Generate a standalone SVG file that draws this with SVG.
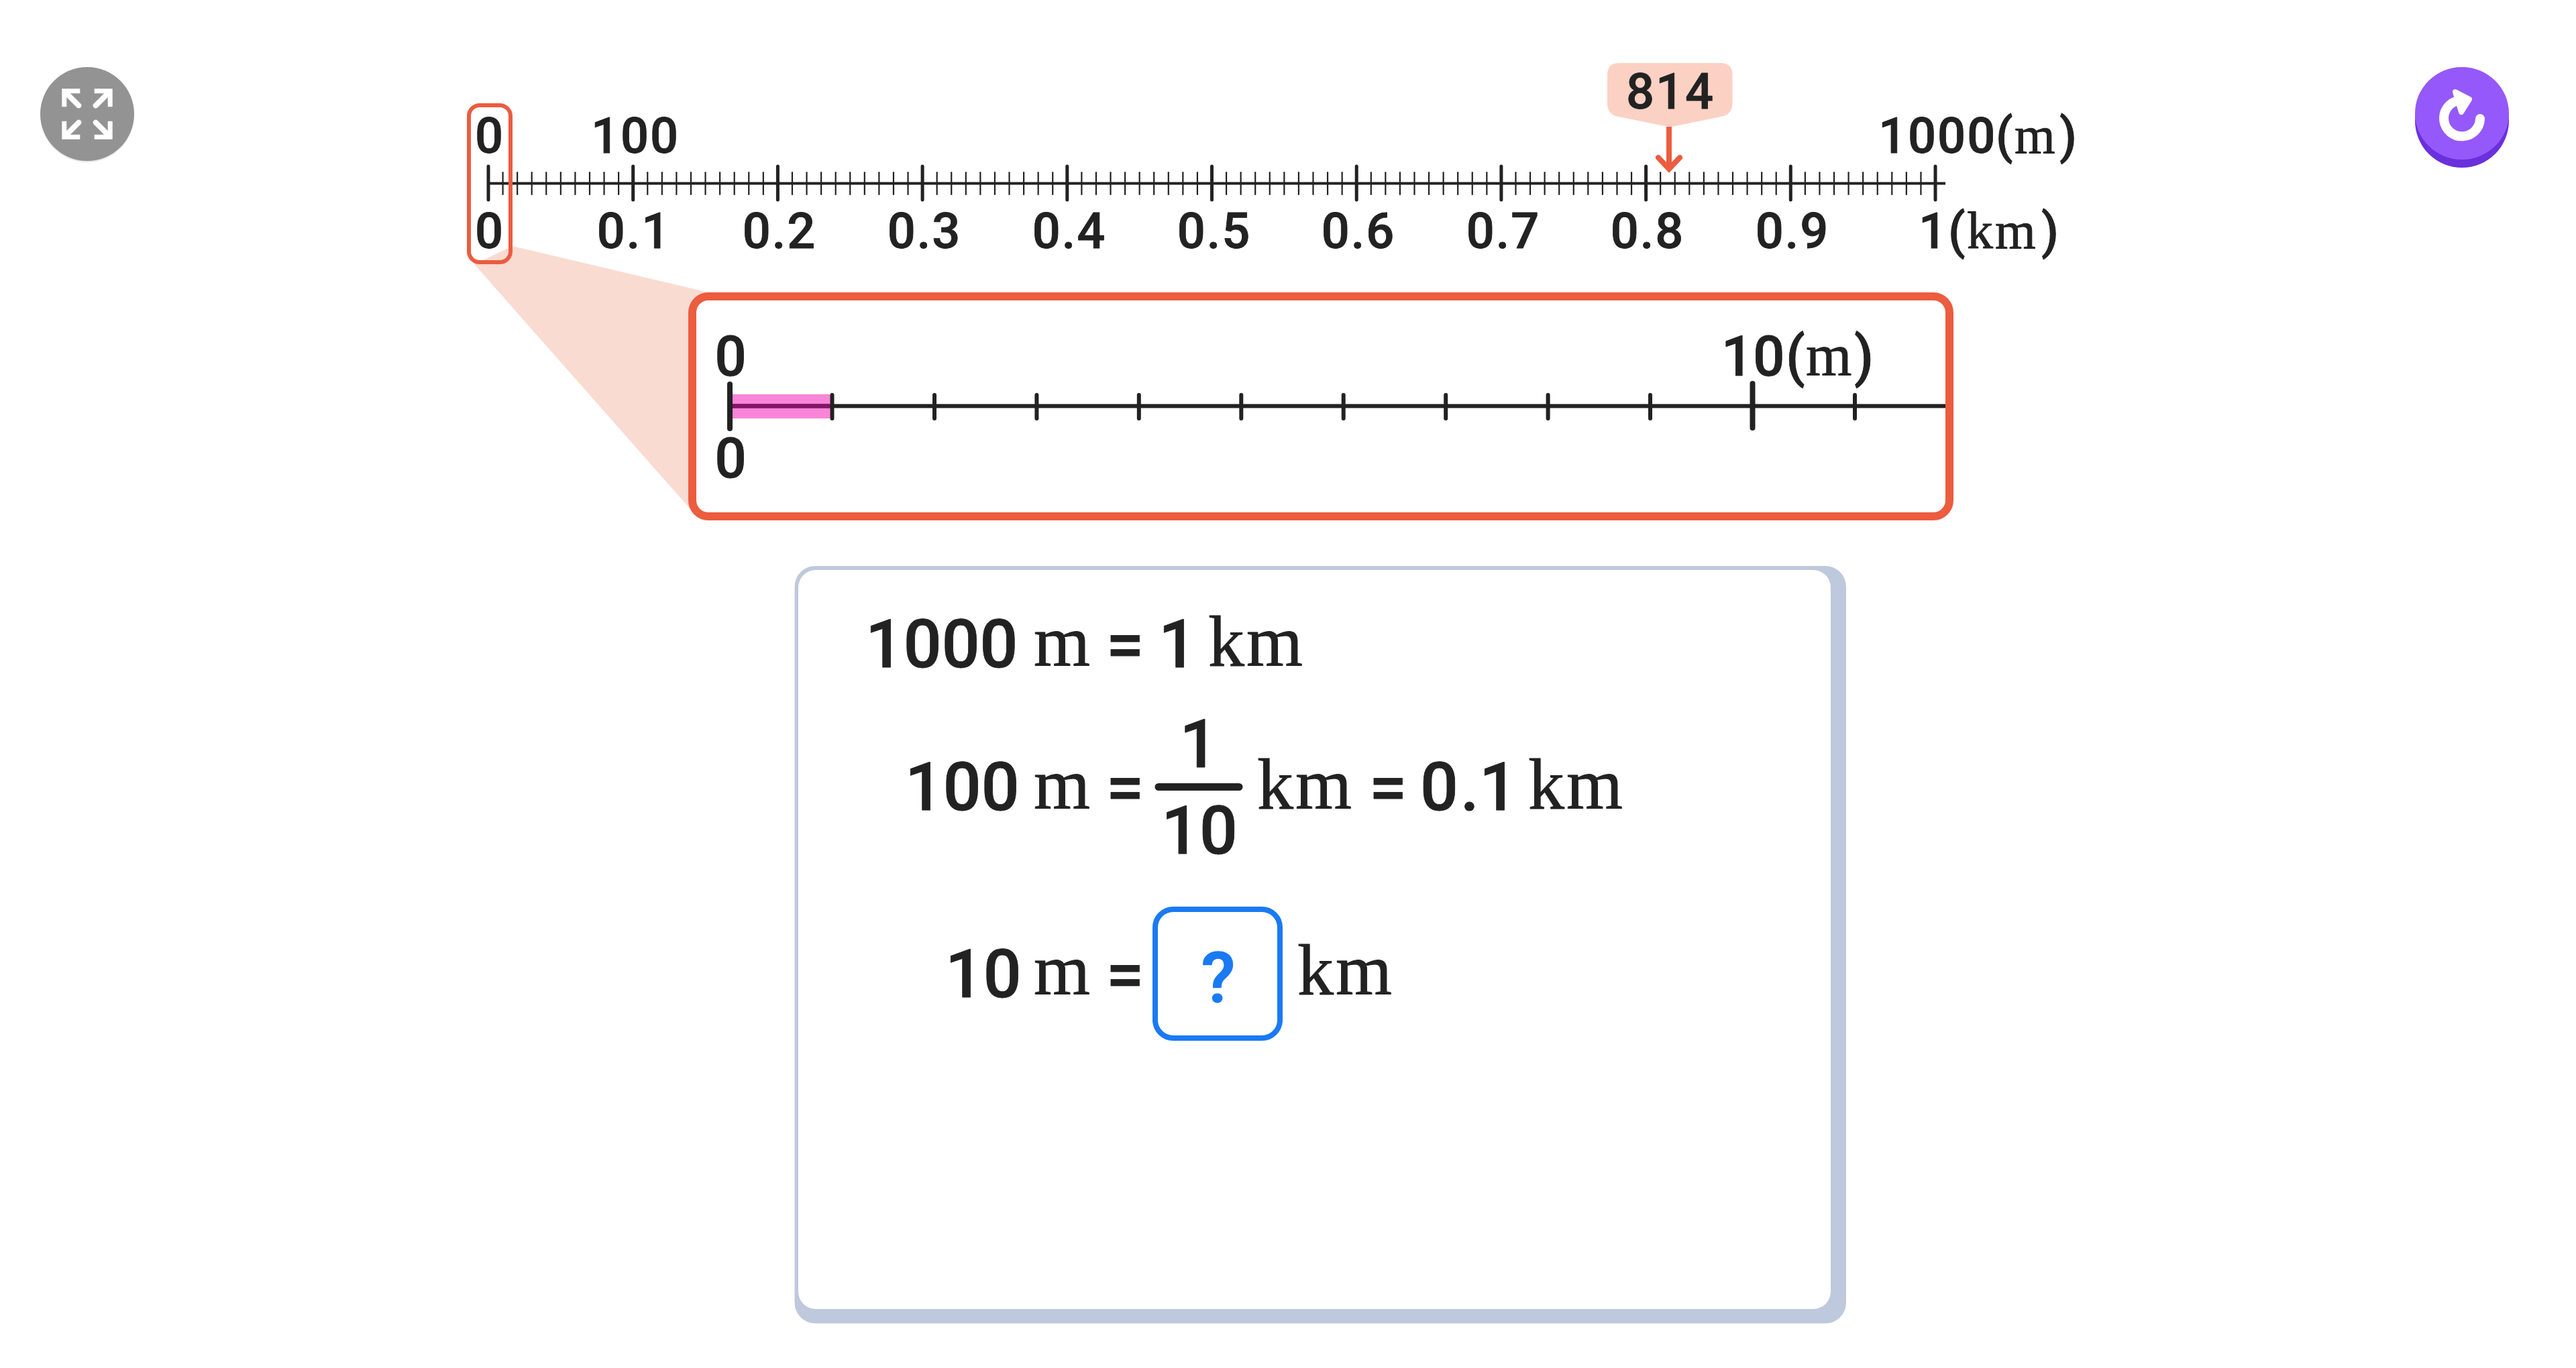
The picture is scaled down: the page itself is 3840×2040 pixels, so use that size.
<svg xmlns="http://www.w3.org/2000/svg" width="3840" height="2040" viewBox="0 0 3840 2040">
<style>
.n{font-family:Roboto,"Noto Sans",sans-serif;font-weight:500;fill:#222;stroke:#222;stroke-width:.8px;stroke-linejoin:round}
.s{font-family:"Liberation Serif",serif;font-weight:400;fill:#222;stroke:#222;stroke-width:.9px;letter-spacing:0}
.a{font-size:74px;letter-spacing:2px}.b{font-size:83px}.c{font-size:100px}
.sa{font-size:78px}.sb{font-size:88px}.sc{font-size:108px}
.km{letter-spacing:3px}
.mid{text-anchor:middle}
.tk{stroke:#222;stroke-linecap:round;fill:none}
.red{stroke:#ec5c3f;fill:none}
.q{fill:#1a7af3;stroke:#1a7af3;stroke-width:1.5px}
</style>
<defs>
<g id="exp"><path d="M27 3.500H3.500V27" fill="none" stroke="#fff" stroke-width="7"/><path d="M5 5L25 25" fill="none" stroke="#fff" stroke-width="8" stroke-linecap="round"/></g>
</defs>
<rect width="3840" height="2040" fill="#fff"/>

<g id="btn-expand">
<circle cx="130" cy="172" r="70" fill="#e9e9e9"/>
<circle cx="130" cy="170" r="70" fill="#939393"/>
<use href="#exp" transform="translate(92.3 132.3)"/>
<use href="#exp" transform="translate(167.7 132.3) scale(-1 1)"/>
<use href="#exp" transform="translate(92.3 207.7) scale(1 -1)"/>
<use href="#exp" transform="translate(167.7 207.7) scale(-1 -1)"/>
</g>

<g id="btn-reload">
<circle cx="3670" cy="180" r="70" fill="#6a30dc"/>
<ellipse cx="3670" cy="169" rx="70" ry="69" fill="#9558fa"/>
<path d="M3697 177A27 27 0 1 1 3664 150" fill="none" stroke="#fff" stroke-width="14" stroke-linecap="round"/>
<path d="M3660 137L3681 148L3669 167Z" fill="#fff" stroke="#fff" stroke-width="8" stroke-linejoin="round"/>
</g>

<g id="wedge"><polygon points="764,367 1056,436 1030,760 707,394" fill="#fadbd1"/></g>

<g id="top-axis">
<line x1="728" y1="273.500" x2="2900" y2="273.500" stroke="#222" stroke-width="4"/>
<line x1="728" y1="273.500" x2="2885" y2="273.500" stroke="#222" stroke-width="34.700" stroke-dasharray="2.200 19.370" stroke-dashoffset="1.100"/>
<path class="tk" stroke-width="5" d="M728 248V298M943.700 248V298M1159.400 248V298M1375.100 248V298M1590.800 248V298M1806.500 248V298M2022.200 248V298M2237.900 248V298M2453.600 248V298M2669.300 248V298M2885 248V298"/>
</g>

<g id="top-labels">
<text class="n a mid" x="730" y="227.500">0</text>
<text class="n a mid" x="947" y="227.500">100</text>
<text class="n a" x="2800" y="227.500">1000<tspan x="2975">(</tspan><tspan class="s sa" x="3003" y="228">m</tspan><tspan x="3070" y="227.500">)</tspan></text>
<text class="n a mid" x="730" y="370">0</text>
<text class="n a mid" x="945" y="370">0.1</text>
<text class="n a mid" x="1162" y="370">0.2</text>
<text class="n a mid" x="1378" y="370">0.3</text>
<text class="n a mid" x="1594" y="370">0.4</text>
<text class="n a mid" x="1810" y="370">0.5</text>
<text class="n a mid" x="2025" y="370">0.6</text>
<text class="n a mid" x="2241" y="370">0.7</text>
<text class="n a mid" x="2456" y="370">0.8</text>
<text class="n a mid" x="2672" y="370">0.9</text>
<text class="n a" x="2860" y="370">1<tspan x="2904">(</tspan><tspan class="s sa km" x="2932">km</tspan><tspan x="3043">)</tspan></text>
</g>

<g id="marker-814">
<path d="M2414 94H2565Q2582.500 94 2582.500 112V154Q2582.500 168 2570 173L2492 189H2487L2408 173Q2396 168 2396 154V112Q2396 94 2414 94Z" fill="#fbd1c4"/>
<text class="n a mid" x="2490" y="162">814</text>
<path d="M2488 189V250" class="red" stroke-width="8"/>
<path d="M2472 235L2488 252L2504 235" class="red" stroke-width="8" stroke-linecap="round"/>
</g>

<g id="zoom-source"><rect x="699" y="157" width="62" height="234" rx="16" class="red" stroke-width="6"/></g>

<g id="zoom-box">
<rect x="1032" y="442" width="1874" height="328" rx="24" fill="#fff" stroke="#ec5c3f" stroke-width="12"/>
<rect x="1092" y="588" width="148" height="36" fill="#f985d9"/>
<line x1="1088" y1="605.500" x2="2900" y2="605.500" stroke="#222" stroke-width="6"/>
<line x1="1092" y1="605.500" x2="1238" y2="605.500" stroke="#86126a" stroke-width="6"/>
<path class="tk" stroke-width="6" d="M1240.500 589V624M1393 589V624M1545.400 589V624M1697.800 589V624M1850.300 589V624M2002.700 589V624M2155.200 589V624M2307.600 589V624M2460 589V624M2765 589V624"/>
<path class="tk" stroke-width="8" d="M1088 573V639M2612.500 572V638"/>
<text class="n b mid" x="1089" y="560">0</text>
<text class="n b mid" x="1089" y="712">0</text>
<text class="n b" x="2566" y="560">10<tspan x="2662">(</tspan><tspan class="s sb" x="2692">m</tspan><tspan x="2764">)</tspan></text>
</g>

<g id="panel">
<rect x="1184.500" y="844" width="1567.500" height="1129.500" rx="31" fill="#bfc9dd"/>
<rect x="1190" y="850" width="1539" height="1102" rx="26" fill="#fff"/>
<text class="n c" x="1290" y="994.500">1000</text>
<text class="s sc" x="1541" y="992.500">m</text>
<text class="n c" x="1649" y="994.500">=</text>
<text class="n c" x="1727" y="994.500">1</text>
<text class="s sc km" x="1801" y="992.500">km</text>
<text class="n c" x="1349" y="1207.500">100</text>
<text class="s sc" x="1541" y="1205.500">m</text>
<text class="n c" x="1649" y="1207.500">=</text>
<text class="n c mid" x="1787" y="1143.500">1</text>
<line x1="1727" y1="1173.500" x2="1847" y2="1173.500" stroke="#222" stroke-width="11" stroke-linecap="round"/>
<text class="n c mid" x="1788" y="1272.500">10</text>
<text class="s sc km" x="1874" y="1205.500">km</text>
<text class="n c" x="2041" y="1207.500">=</text>
<text class="n c" x="2117" y="1207.500">0<tspan x="2177">.</tspan><tspan x="2205">1</tspan></text>
<text class="s sc km" x="2278" y="1205.500">km</text>
<text class="n c" x="1409" y="1486.500">10</text>
<text class="s sc" x="1541" y="1482.500">m</text>
<text class="n c" x="1649" y="1486.500">=</text>
<rect x="1722" y="1356" width="186" height="192" rx="27" fill="#fff" stroke="#1a7af3" stroke-width="8"/>
<text class="n c mid q" x="1816" y="1494" style="font-size:104px">?</text>
<text class="s sc km" x="1934" y="1482.500">km</text>
</g>
</svg>
